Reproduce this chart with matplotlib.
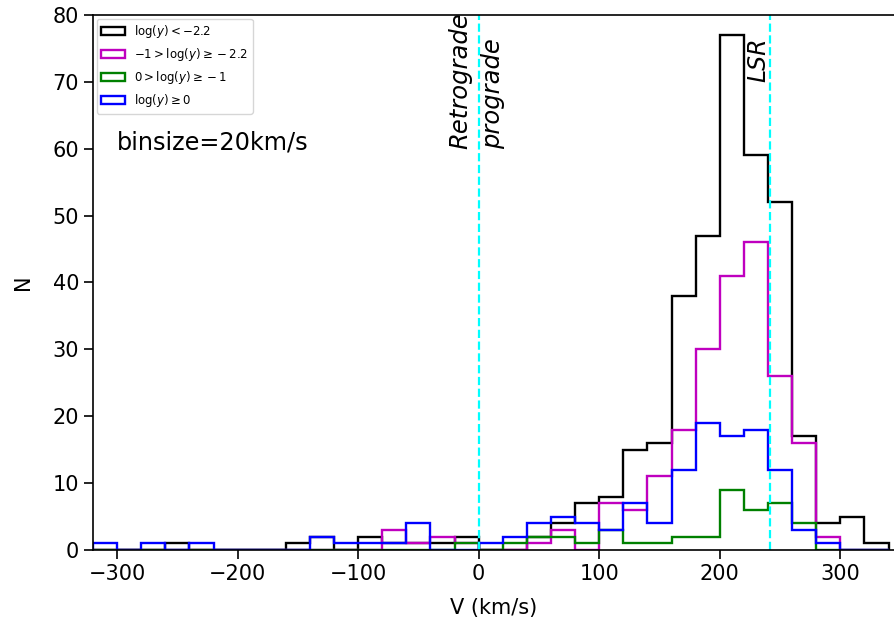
import numpy as np
import matplotlib
matplotlib.use("Agg")
import matplotlib.pyplot as plt

# bin edges (km/s), binsize 20
edges = np.arange(-320, 341, 20)

# counts per bin (left edge -320 ... 320)
n_black = [0, 0, 0, 1, 0, 0, 0, 0, 1, 2, 0, 2, 1, 1, 1, 2, 0,
           0, 2, 4, 7, 8, 15, 16, 38, 47, 77, 59, 52, 17, 4, 5, 1]
n_magenta = [0, 0, 0, 0, 0, 0, 0, 0, 0, 0, 0, 0, 3, 1, 2, 1, 0,
             0, 1, 3, 0, 7, 6, 11, 18, 30, 41, 46, 26, 16, 2, 0, 0]
n_green = [0, 0, 0, 0, 0, 0, 0, 0, 0, 0, 0, 0, 0, 0, 0, 1, 0,
           1, 2, 2, 1, 3, 1, 1, 2, 2, 9, 6, 7, 4, 0, 0, 0]
n_blue = [1, 0, 1, 0, 1, 0, 0, 0, 0, 2, 1, 1, 1, 4, 0, 0, 1,
          2, 4, 5, 4, 3, 7, 4, 12, 19, 17, 18, 12, 3, 1, 0, 0]

labels = [r'$\log(y)<-2.2$', r'$-1>\log(y)\geq-2.2$',
          r'$0>\log(y)\geq-1$', r'$\log(y)\geq0$']
colors = ['k', 'm', 'g', 'b']

v_lsr = 242

fig = plt.figure(figsize=(8.94, 6.27), dpi=100)
ax = fig.add_axes([0.104, 0.1228, 0.8966, 0.8533])

centers = edges[:-1] + 10
for n, c, lab in zip([n_black, n_magenta, n_green, n_blue], colors, labels):
    ax.hist(centers, bins=edges, weights=n, histtype='step', color=c,
            lw=1.7, label=lab)

ax.axvline(0, color='cyan', ls='--', lw=1.6)
ax.axvline(v_lsr, color='cyan', ls='--', lw=1.6)

ax.text(-5, 60, 'Retrograde', rotation=90, style='italic', fontsize=17.5,
        ha='right', va='bottom')
ax.text(2, 60, 'prograde', rotation=90, style='italic', fontsize=17.5,
        ha='left', va='bottom')
ax.text(v_lsr, 70, 'LSR', rotation=90, style='italic', fontsize=17,
        ha='right', va='bottom')
ax.text(-300, 61, 'binsize=20km/s', fontsize=17.3, ha='left', va='center')

ax.set_xlim(-320, 345)
ax.set_ylim(0, 80)
for s in ax.spines.values():
    s.set_linewidth(1.2)
ax.tick_params(labelsize=15, length=6.5, width=1.2)
ax.set_xlabel('V (km/s)', fontsize=15, labelpad=10)
ax.set_ylabel('N', fontsize=15, labelpad=14)
ax.legend(loc='upper left', fontsize=8.5, borderaxespad=0.3)

fig.savefig('out.png', dpi=100)
